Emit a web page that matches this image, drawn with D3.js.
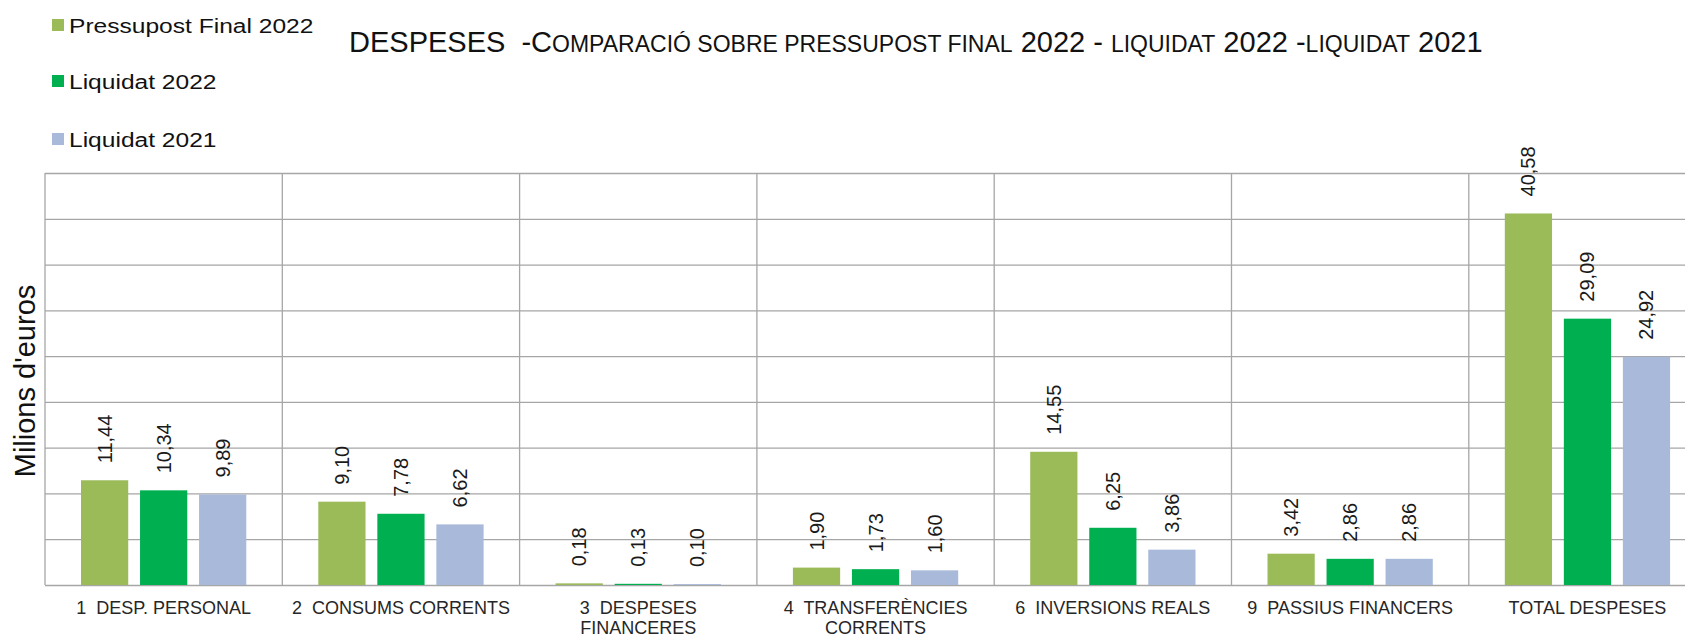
<!DOCTYPE html>
<html>
<head>
<meta charset="utf-8">
<script src="https://cdn.jsdelivr.net/npm/d3@7"></script>
<style>
  html, body { margin: 0; padding: 0; background: #fff; overflow: hidden; }
  svg { display: block; font-family: "Liberation Sans", Arial, sans-serif; }
  text { white-space: pre; }
</style>
</head>
<body>
<svg id="chart" width="1685" height="637"></svg>
<script>
// Dades del gràfic
const categories = [
    ['1  DESP. PERSONAL'],
    ['2  CONSUMS CORRENTS'],
    ['3  DESPESES', 'FINANCERES'],
    ['4  TRANSFERÈNCIES', 'CORRENTS'],
    ['6  INVERSIONS REALS'],
    ['9  PASSIUS FINANCERS'],
    ['TOTAL DESPESES']
];
const seriesNames = ['Pressupost Final 2022', 'Liquidat 2022', 'Liquidat 2021'];
const pressupost2022 = [11.44, 9.10, 0.18, 1.90, 14.55, 3.42, 40.58];
const liquidat2022 = [10.34, 7.78, 0.13, 1.73, 6.25, 2.86, 29.09];
const liquidat2021 = [9.89, 6.62, 0.10, 1.60, 3.86, 2.86, 24.92];
const yTicks = [0, 5, 10, 15, 20, 25, 30, 35, 40, 45];
const colors = ['#9BBB59', '#00B050', '#A8B9D9'];

const seriesValues = [pressupost2022, liquidat2022, liquidat2021];

// Format amb coma decimal
const locale = d3.formatLocale({ decimal: ',', thousands: '.', grouping: [3], currency: ['', '€'] });
const fmt = locale.format('.2f');

const svg = d3.select('#chart');

// Àrea del gràfic (la vora dreta queda fora de la finestra)
const plotLeft = 45, plotTop = 173, plotBottom = 585;
const bandW = 237.3;
const plotRight = plotLeft + categories.length * bandW;

const catKeys = categories.map((c, i) => i);
const x0 = d3.scaleBand().domain(catKeys).range([plotLeft, plotRight]).padding(0);
const x1 = d3.scaleBand().domain(seriesNames).range([0, x0.bandwidth()])
    .paddingInner(0.2).paddingOuter(0.61);
const y = d3.scaleLinear().domain([0, 45]).range([plotBottom, plotTop]);

// Línies de la quadrícula horitzontal
svg.append('g')
    .attr('transform', `translate(${plotLeft},0)`)
    .call(d3.axisLeft(y).tickValues(yTicks).tickSize(-(plotRight - plotLeft)).tickFormat(''))
    .call(g => g.select('.domain').remove())
    .call(g => g.selectAll('line').attr('stroke', '#A6A6A6').attr('stroke-width', 1.3));

// Separadors verticals entre categories
svg.append('g').selectAll('line')
    .data(catKeys.concat([categories.length]))
    .enter()
    .append('line')
    .attr('x1', d => d < categories.length ? x0(d) : plotRight)
    .attr('x2', d => d < categories.length ? x0(d) : plotRight)
    .attr('y1', y(45))
    .attr('y2', y(0))
    .attr('stroke', '#A6A6A6')
    .attr('stroke-width', 1.3);

// Barres
const groups = svg.append('g').selectAll('g')
    .data(catKeys)
    .enter()
    .append('g')
    .attr('transform', d => `translate(${x0(d)},0)`);

const bars = groups.selectAll('g.bar')
    .data(ci => seriesNames.map((s, si) => ({ s, si, v: seriesValues[si][ci] })))
    .enter()
    .append('g')
    .attr('class', 'bar');

bars.append('rect')
    .attr('x', d => x1(d.s))
    .attr('y', d => y(d.v))
    .attr('width', x1.bandwidth())
    .attr('height', d => y(0) - y(d.v))
    .attr('fill', d => colors[d.si]);

// Etiquetes de valor (girades)
bars.append('text')
    .attr('transform', d => `translate(${x1(d.s) + x1.bandwidth() / 2},${y(d.v) - 17}) rotate(-90)`)
    .attr('dy', '0.35em')
    .attr('text-anchor', 'start')
    .attr('font-size', 20)
    .attr('fill', '#1a1a1a')
    .text(d => fmt(d.v));

// Etiquetes de categoria
const catLabels = svg.append('g').selectAll('text')
    .data(catKeys)
    .enter()
    .append('text')
    .attr('x', d => x0(d) + x0.bandwidth() / 2)
    .attr('y', 614)
    .attr('text-anchor', 'middle')
    .attr('font-size', 18)
    .attr('fill', '#262626');

catLabels.selectAll('tspan')
    .data(d => categories[d])
    .enter()
    .append('tspan')
    .attr('x', function () { return d3.select(this.parentNode).attr('x'); })
    .attr('dy', (d, i) => i === 0 ? 0 : 20)
    .text(d => d);

// Títol de l'eix Y
svg.append('text')
    .attr('transform', 'translate(35,381) rotate(-90)')
    .attr('text-anchor', 'middle')
    .attr('font-size', 29)
    .attr('fill', '#111')
    .text("Milions d'euros");

// Llegenda
const legend = svg.append('g').selectAll('g')
    .data(seriesNames)
    .enter()
    .append('g')
    .attr('transform', (d, i) => `translate(52,${[25, 81, 139][i]})`);

legend.append('rect')
    .attr('x', 0)
    .attr('y', -6)
    .attr('width', 12)
    .attr('height', 12)
    .attr('fill', (d, i) => colors[i]);

legend.append('text')
    .attr('transform', 'translate(17,7.5) scale(1.17,1)')
    .attr('font-size', 21)
    .attr('fill', '#111')
    .text(d => d);

// Títol amb versaletes
const titleParts = [
    ['DESPESES', 29],
    ['  -C', 29],
    ['OMPARACIÓ SOBRE PRESSUPOST FINAL', 23],
    [' 2022 - ', 29],
    ['LIQUIDAT', 23],
    [' 2022 -', 29],
    ['LIQUIDAT', 23],
    [' 2021', 29]
];
svg.append('text')
    .attr('x', 349)
    .attr('y', 52)
    .attr('fill', '#111')
    .selectAll('tspan')
    .data(titleParts)
    .enter()
    .append('tspan')
    .attr('font-size', d => d[1])
    .text(d => d[0]);
</script>
</body>
</html>
